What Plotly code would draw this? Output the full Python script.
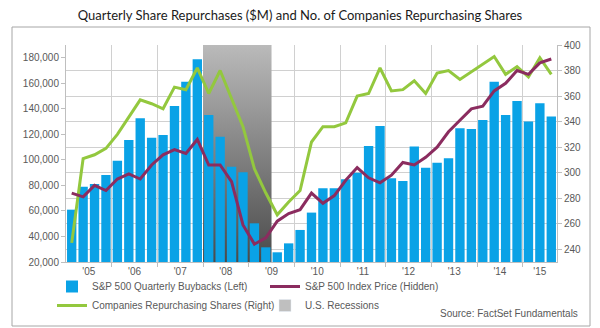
import plotly.graph_objects as go

# ---------------- data ----------------
years = list(range(2005, 2016))
quarters = [f"{y}Q{q}" for y in years for q in range(1, 5)][:43]  # 2005Q1 .. 2015Q3

buybacks = [61000, 79000, 81100, 88200, 99400, 115600, 132600, 117400, 119500, 142200,
            161300, 178800, 135200, 118200, 94700, 90300, 50300, 31500, 27600, 34600,
            45100, 58700, 77700, 77700, 84800, 90000, 110900, 126600, 85600, 83500,
            110400, 93900, 97800, 101200, 124700, 124200, 131300, 161300, 135200, 146100,
            130000, 144300, 133900]

companies = [245, 311, 314, 319, 330, 343, 357, 354, 350, 367,
             365, 382, 362, 380, 358, 336, 303, 284, 267, 277,
             286, 324, 336, 336, 339, 360, 362, 382, 364, 365,
             372, 362, 378, 380, 373, 379, 385, 391, 377, 383,
             375, 390, 377]

# S&P 500 index price, drawn on a hidden axis (values in that hidden scale)
index_price = [284, 281, 290, 286, 295, 299, 295, 306, 314, 318,
               315, 326, 306, 306, 293, 259, 244, 249, 262, 268,
               271, 284, 276, 282, 294, 304, 296, 292, 298, 308,
               306, 312, 320, 332, 341, 350, 352, 364, 370, 380,
               377, 386, 389]

recession_start = "2008Q1"
recession_end = "2009Q2"

year_labels = ["'05", "'06", "'07", "'08", "'09", "'10", "'11", "'12", "'13", "'14", "'15"]

# ---------------- derived positions (through axis scales) ----------------
xi = list(range(len(quarters)))
year_centers = []
year_bounds = []
for y in years:
    idx = [i for i, q in enumerate(quarters) if q.startswith(str(y))]
    year_centers.append(sum(idx) / len(idx))
    if idx[0] > 0:
        year_bounds.append(idx[0] - 0.5)

r0 = quarters.index(recession_start) - 0.5
r1 = quarters.index(recession_end) + 0.5

BLUE = "#0AA2E6"
GREEN = "#93C83E"
PURPLE = "#8B2C5F"
GRID = "#D0D0D0"
TXT = "#595959"
FONT = "Liberation Sans, Arial, sans-serif"

fig = go.Figure()

# recession shading (gradient), legend entry provided separately
fig.add_trace(go.Scatter(
    x=[r0, r1, r1, r0, r0], y=[0, 0, 1, 1, 0], yaxis="y",
    mode="lines", line=dict(width=0, color="rgba(0,0,0,0)"),
    fill="toself",
    fillgradient=dict(type="vertical", start=0, stop=1,
                      colorscale=[[0, "#4a4a4a"], [1, "#bababa"]]),
    fillcolor="#bdbdbd", showlegend=False, hoverinfo="skip"))

fig.add_trace(go.Bar(
    x=xi, y=buybacks, yaxis="y2", marker=dict(color=BLUE, line=dict(width=0)),
    name="S&P 500 Quarterly Buybacks (Left)", legendrank=1))

fig.add_trace(go.Scatter(
    x=xi, y=companies, yaxis="y3", mode="lines",
    line=dict(color=GREEN, width=3),
    name="Companies Repurchasing Shares (Right)", legendrank=3))

fig.add_trace(go.Scatter(
    x=xi, y=index_price, yaxis="y4", mode="lines",
    line=dict(color=PURPLE, width=3),
    name="S&P 500 Index Price (Hidden)", legendrank=2))

# legend entry for the recession band
fig.add_trace(go.Bar(
    x=[None], y=[None], yaxis="y", marker=dict(color="#BFBFBF"),
    name="U.S. Recessions", legendrank=4, hoverinfo="skip"))

L, R, T, B = 66, 43, 45, 66
W, H = 600, 328
pw, ph = W - L - R, H - T - B


def px_x(p):
    return (p - L) / pw


def px_y(p):
    return (H - B - p) / ph


fig.update_layout(
    width=W, height=H,
    margin=dict(l=L, r=R, t=T, b=B, autoexpand=False),
    paper_bgcolor="white", plot_bgcolor="white",
    font=dict(family=FONT, size=10, color=TXT),
    barmode="overlay", bargap=0.18,
    title=dict(text="Quarterly Share Repurchases ($M) and No. of Companies Repurchasing Shares",
               x=0.5, xanchor="center", y=1 - 15 / H, yanchor="middle",
               font=dict(family="Lato, Open Sans, sans-serif", size=13, color="#1a1a1a")),
    xaxis=dict(range=[-0.5, len(quarters) - 0.5], tickmode="array",
               tickvals=year_centers, ticktext=year_labels, ticks="",
               showgrid=False, zeroline=False, showline=True, linecolor="#BFBFBF",
               tickfont=dict(size=10, color=TXT),
               minor=dict(tickmode="array", tickvals=year_bounds, ticks="outside",
                          ticklen=4, tickcolor="#BFBFBF", showgrid=True,
                          gridcolor=GRID, gridwidth=1)),
    yaxis=dict(range=[0, 1], visible=False, fixedrange=True),
    yaxis2=dict(overlaying="y", side="left", range=[20000, 190000],
                tickmode="array", tickvals=list(range(20000, 180001, 20000)),
                tickformat=",", ticks="outside", ticklen=4, tickcolor="#BFBFBF",
                showgrid=False, zeroline=False, showline=True, linecolor="#BFBFBF",
                tickfont=dict(size=10, color=TXT)),
    yaxis3=dict(overlaying="y", side="right", range=[230, 400],
                tick0=240, dtick=20, ticks="outside", ticklen=4, tickcolor="#BFBFBF",
                showgrid=True, gridcolor=GRID, zeroline=False, showline=True,
                linecolor="#BFBFBF", tickfont=dict(size=10, color=TXT)),
    yaxis4=dict(overlaying="y", range=[230, 400], visible=False),
    legend=dict(orientation="h", x=px_x(52), y=px_y(272), xanchor="left", yanchor="top",
                entrywidth=168, entrywidthmode="pixels", itemwidth=30,
                font=dict(size=10, color=TXT), bgcolor="rgba(0,0,0,0)",
                tracegroupgap=0, traceorder="normal"),
    shapes=[dict(type="rect", xref="paper", yref="paper",
                 x0=px_x(12), x1=px_x(590), y0=px_y(326), y1=px_y(27),
                 line=dict(color="#A6A6A6", width=1), fillcolor="rgba(0,0,0,0)",
                 layer="below")],
    annotations=[dict(text="Source: FactSet Fundamentals", xref="paper", yref="paper",
                      x=px_x(580), y=px_y(313), xanchor="right", yanchor="middle",
                      showarrow=False, font=dict(size=10, color=TXT))],
)

fig.write_html("out.html")
